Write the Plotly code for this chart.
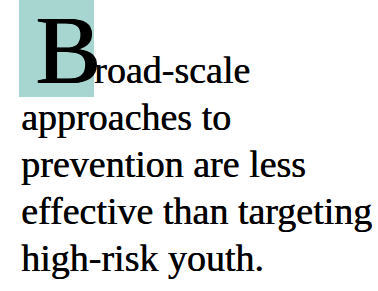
import plotly.graph_objects as go

# Content
drop_cap = "B"
first_line_rest = "road-scale"
body_lines = [
    "approaches to",
    "prevention are less",
    "effective than targeting",
    "high-risk youth.",
]

W, H = 378, 291
FONT = "Liberation Serif, Times New Roman, serif"
BODY_SIZE = 38
CAP_SIZE = 97
BOX_COLOR = "#a7d5d0"
BODY_SHADOW = "0.5px 0 0 #000"
CAP_SHADOW = "1px 0 0 #000, 2px 0 0 #000"

fig = go.Figure()

# drop-cap box
fig.add_shape(type="rect", x0=19, x1=94, y0=0, y1=97, xref="x", yref="y",
              fillcolor=BOX_COLOR, line=dict(width=0), layer="below")

def center_from_baseline(baseline, size):
    return baseline - 0.3375 * size

annotations = []
annotations.append(dict(x=34, y=center_from_baseline(83, CAP_SIZE), text=drop_cap,
                        xanchor="left", yanchor="middle", showarrow=False, borderpad=0,
                        font=dict(family=FONT, size=CAP_SIZE, color="#000", shadow=CAP_SHADOW)))
annotations.append(dict(x=93, y=center_from_baseline(83, BODY_SIZE), text=first_line_rest,
                        xanchor="left", yanchor="middle", showarrow=False, borderpad=0,
                        font=dict(family=FONT, size=BODY_SIZE, color="#000", shadow=BODY_SHADOW)))
baselines = [130, 177, 224, 271]
for txt, b in zip(body_lines, baselines):
    annotations.append(dict(x=19.5, y=center_from_baseline(b, BODY_SIZE), text=txt,
                            xanchor="left", yanchor="middle", showarrow=False, borderpad=0,
                            font=dict(family=FONT, size=BODY_SIZE, color="#000", shadow=BODY_SHADOW)))

fig.update_layout(
    width=W, height=H,
    margin=dict(l=0, r=0, t=0, b=0),
    paper_bgcolor="white", plot_bgcolor="white",
    xaxis=dict(range=[0, W], visible=False, fixedrange=True),
    yaxis=dict(range=[H, 0], visible=False, fixedrange=True),
    annotations=annotations,
    showlegend=False,
)

fig.write_html("out.html", config={"displayModeBar": False},
               post_script="document.body.style.margin='0';document.body.style.padding='0';")
